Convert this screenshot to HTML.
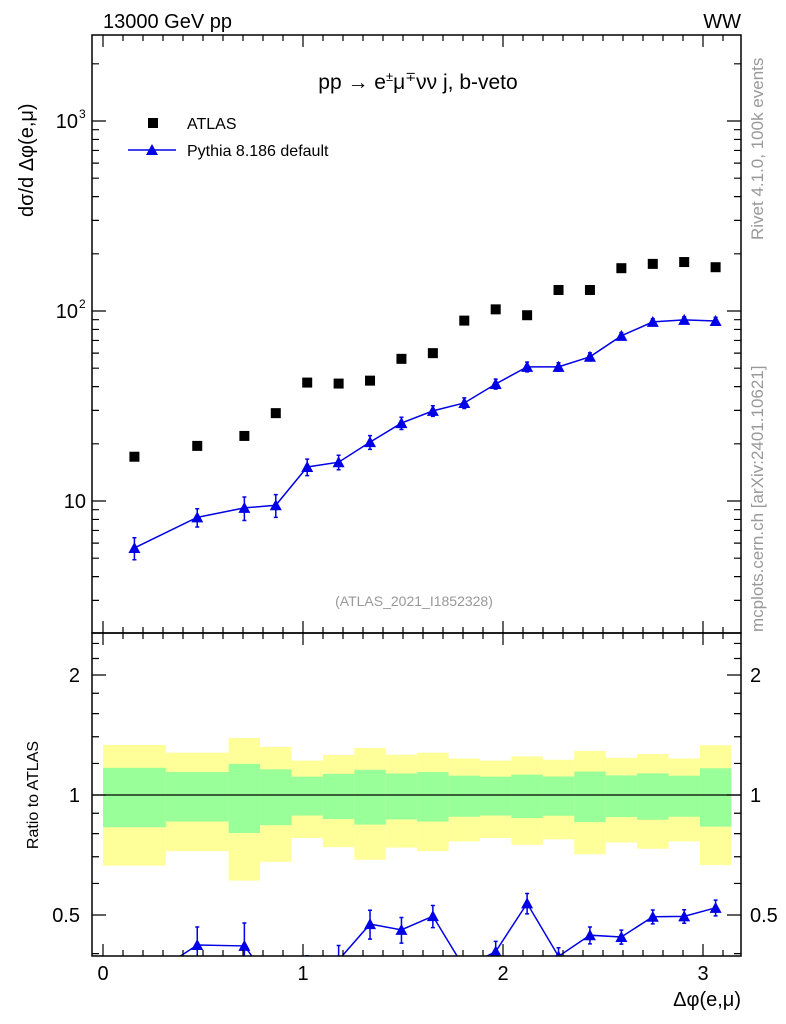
<!DOCTYPE html>
<html><head><meta charset="utf-8"><style>
html,body{margin:0;padding:0;background:#fff;}
svg{display:block;font-family:"Liberation Sans",sans-serif;}
</style></head><body>
<svg id="chart" width="786" height="1024" viewBox="0 0 786 1024" xmlns="http://www.w3.org/2000/svg">
<text x="103" y="28" font-size="20">13000 GeV pp</text>
<text x="741" y="28" font-size="20" text-anchor="end">WW</text>
<text x="418" y="89" font-size="21" text-anchor="middle">pp  →  e<tspan font-size="13" dy="-8">±</tspan><tspan dy="8">μ</tspan><tspan font-size="13" dy="-8">∓</tspan><tspan dy="8">νν j, b-veto</tspan></text>
<text transform="translate(33,217) rotate(-90)" font-size="20">dσ/d Δφ(e,μ)</text>
<text transform="translate(38,795) rotate(-90)" font-size="16" text-anchor="middle">Ratio to ATLAS</text>
<text x="741" y="1006" font-size="20" text-anchor="end">Δφ(e,μ)</text>
<text transform="translate(763,240) rotate(-90)" font-size="17" fill="#999">Rivet 4.1.0,  100k events</text>
<text transform="translate(763,632) rotate(-90)" font-size="17" fill="#999">mcplots.cern.ch [arXiv:2401.10621]</text>
<text x="414" y="606" font-size="14" fill="#999" text-anchor="middle">(ATLAS_2021_I1852328)</text>
<g>
<rect x="148" y="118" width="10" height="10" fill="#000"/>
<text x="187" y="129" font-size="16">ATLAS</text>
<line x1="128" y1="150" x2="176" y2="150" stroke="#0000e6" stroke-width="1.5"/>
<path d="M152,144 L158,155 L146,155 Z" fill="#0000e6"/>
<text x="187" y="156" font-size="16">Pythia 8.186 default</text>
</g>
<g id="main"></g>
<g id="ratio"></g>
<g id="frames"></g>
</svg>
<script>
const binEdges=[0,0.31416,0.62832,0.7854,0.94248,1.09956,1.25664,1.41372,1.5708,1.72788,1.88496,2.04204,2.19911,2.35619,2.51327,2.67035,2.82743,2.98451,3.14159];
const atlasVals=[17.1,19.5,22,29,42,41.5,43,56,60,89,102,95,129,129,168,177,181,170];
const atlasTotErr=[0.335,0.277,0.39,0.32,0.22,0.26,0.312,0.262,0.277,0.235,0.22,0.25,0.226,0.29,0.24,0.267,0.235,0.333];
const atlasStatErr=[0.17,0.142,0.197,0.16,0.112,0.13,0.157,0.132,0.142,0.118,0.112,0.125,0.113,0.145,0.12,0.133,0.118,0.167];
const pythiaVals=[5.66,8.2,9.2,9.5,15.1,16,20.4,25.7,29.8,32.8,41.3,50.8,50.8,57.4,74,87.6,89.8,88.6];
const pythiaErr=[0.75,0.9,1.3,1.3,1.5,1.4,1.7,1.9,1.9,2.1,2.5,3,2.6,2.8,3,3.5,3.5,4];
const xTicks=[0,1,2,3];
const yTicks=[{v:10,l:"10"},{v:100,l:"10",e:"2"},{v:1000,l:"10",e:"3"}];
const rTicks=[{v:0.5,l:"0.5"},{v:1,l:"1"},{v:2,l:"2"}];

const NS="http://www.w3.org/2000/svg";
const L=92,R=741,T=35,M=633,B=956;
const X=v=>103+200*v;
const Y=v=>501-190*Math.log10(v/10);
const RY=v=>795-120*Math.log2(v);
function mk(tag,attrs,parent){const e=document.createElementNS(NS,tag);for(const k in attrs)e.setAttribute(k,attrs[k]);parent.appendChild(e);return e;}
const main=document.getElementById('main'),ratio=document.getElementById('ratio'),frames=document.getElementById('frames');
const defs=mk('defs',{},document.getElementById('chart'));
const c1=mk('clipPath',{id:'cm'},defs);mk('rect',{x:L,y:T,width:R-L,height:M-T},c1);
const c2=mk('clipPath',{id:'cr'},defs);mk('rect',{x:L,y:M,width:R-L,height:B-M},c2);
main.setAttribute('clip-path','url(#cm)');ratio.setAttribute('clip-path','url(#cr)');
const centers=binEdges.slice(0,-1).map((e,i)=>(e+binEdges[i+1])/2);

atlasTotErr.forEach((err,i)=>{
  const x0=X(binEdges[i]),x1=X(binEdges[i+1]);
  const y=mk('rect',{x:x0,y:RY(1+err),width:x1-x0,height:RY(1-err)-RY(1+err),fill:'#ffff99'},ratio);
  
  
});
atlasStatErr.forEach((err,i)=>{
  const x0=X(binEdges[i]),x1=X(binEdges[i+1]);
  const g=mk('rect',{x:x0,y:RY(1+err),width:x1-x0,height:RY(1-err)-RY(1+err),fill:'#99ff99'},ratio);
  
  
});
const one=mk('line',{x1:L,x2:R,y1:RY(1),y2:RY(1),stroke:'#000','stroke-width':1.2},ratio);



atlasVals.forEach((v,i)=>{
  const r=mk('rect',{x:X(centers[i])-5,y:Y(v)-5,width:10,height:10,fill:'#000'},main);
  
  
});
const tri=(x,y)=>`M${x},${y-6} L${x+6},${y+5} L${x-6},${y+5} Z`;
let d='';
pythiaVals.forEach((v,i)=>{d+=(i?'L':'M')+X(centers[i])+','+Y(v);});
const pl=mk('path',{d:d,fill:'none',stroke:'#0000e6','stroke-width':1.5},main);


pythiaVals.forEach((v,i)=>{
  const x=X(centers[i]),e=pythiaErr[i];
  const eb=mk('path',{d:`M${x},${Y(v+e)}V${Y(v-e)}M${x-2},${Y(v+e)}h4M${x-2},${Y(v-e)}h4`,stroke:'#0000e6','stroke-width':1.5,fill:'none'},main);
  
  
  const m=mk('path',{d:tri(x,Y(v)),fill:'#0000e6'},main);
  
  
});
let rd='';
pythiaVals.forEach((v,i)=>{rd+=(i?'L':'M')+X(centers[i])+','+RY(v/atlasVals[i]);});
const rl=mk('path',{d:rd,fill:'none',stroke:'#0000e6','stroke-width':1.5},ratio);


pythiaVals.forEach((v,i)=>{
  const x=X(centers[i]),r=v/atlasVals[i],e=pythiaErr[i]/atlasVals[i];
  const eb=mk('path',{d:`M${x},${RY(r+e)}V${RY(r-e)}M${x-2},${RY(r+e)}h4M${x-2},${RY(r-e)}h4`,stroke:'#0000e6','stroke-width':1.5,fill:'none'},ratio);
  
  
  const m=mk('path',{d:tri(x,RY(r)),fill:'#0000e6'},ratio);
  
  
});

const f1=mk('rect',{x:L,y:T,width:R-L,height:M-T,fill:'none',stroke:'#000','stroke-width':1.5},frames);


const f2=mk('rect',{x:L,y:M,width:R-L,height:B-M,fill:'none',stroke:'#000','stroke-width':1.5},frames);


let tk='';
for(let k=0;k<=31;k++){const v=k/10,x=X(v);if(x<L||x>R)continue;const len=(k%10==0)?12:6;
  tk+=`M${x},${T}v${len}M${x},${M}v${-len}M${x},${M}v${len}M${x},${B}v${-len}`;}
for(let dec=1;dec<=1000;dec*=10){for(let m=1;m<10;m++){const v=dec*m,y=Y(v);if(y<T||y>M)continue;const len=m==1?14:7;
  tk+=`M${L},${y}h${len}M${R},${y}h${-len}`;}}
for(const v of [0.4,0.5,0.6,0.7,0.8,0.9,1,1.2,1.4,1.6,1.8,2,2.2,2.4]){const y=RY(v);if(y<M||y>B)continue;const len=[0.5,1,2].includes(v)?14:7;
  tk+=`M${L},${y}h${len}M${R},${y}h${-len}`;}
const tkp=mk('path',{d:tk,stroke:'#000','stroke-width':1.2,fill:'none'},frames);


xTicks.forEach(v=>{
  const t=mk('text',{x:X(v),y:980,'font-size':20,'text-anchor':'middle'},frames);t.textContent=v;
  
  
});
yTicks.forEach(o=>{
  const t=mk('text',{x:o.e?78:86,y:Y(o.v)+7,'font-size':20,'text-anchor':'end'},frames);t.textContent=o.l;
  
  
  if(o.e){const s=mk('text',{x:79,y:Y(o.v)-3,'font-size':12},frames);s.textContent=o.e;
    
    }
});
rTicks.forEach(o=>{
  const t=mk('text',{x:80,y:RY(o.v)+7,'font-size':20,'text-anchor':'end'},frames);t.textContent=o.l;
  
  
  const t2=mk('text',{x:750,y:RY(o.v)+7,'font-size':20},frames);t2.textContent=o.l;
  
  
});
</script>
</body></html>
